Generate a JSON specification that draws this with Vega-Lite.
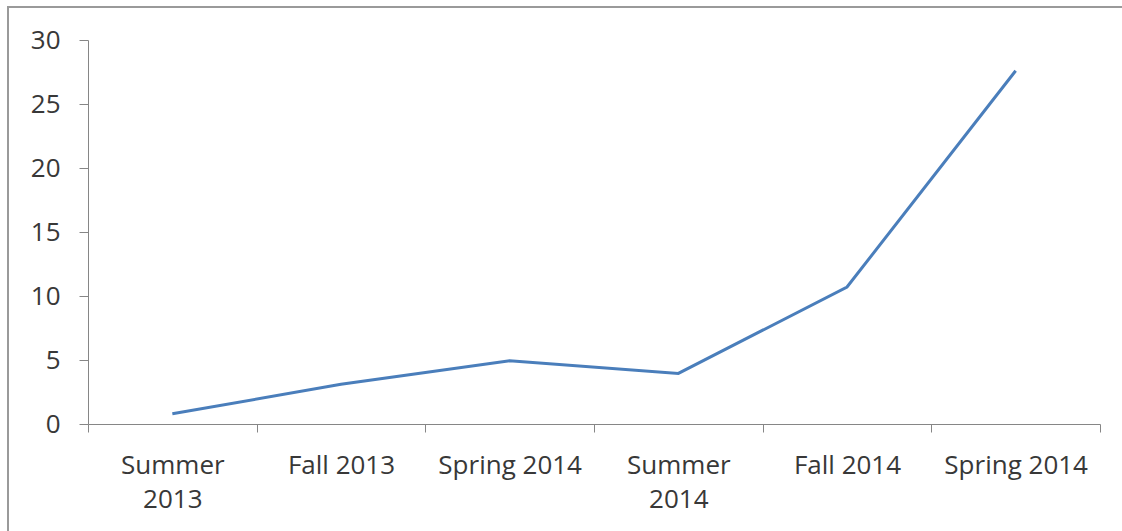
{
  "$schema": "https://vega.github.io/schema/vega-lite/v6.json",
  "autosize": {"type": "none"},
  "padding": {"left": 8, "top": 7, "right": -30, "bottom": -30},
  "width": 1144,
  "height": 554,
  "background": "white",
  "config": {
    "view": {"stroke": "#9a9a9a", "strokeWidth": 2, "fill": "white"},
    "font": "Open Sans"
  },
  "data": {
    "values": [
      {"term": "Summer 2013", "value": 0.8},
      {"term": "Fall 2013", "value": 3.1},
      {"term": "Spring 2014", "value": 4.95},
      {"term": "Summer 2014", "value": 3.95},
      {"term": "Fall 2014", "value": 10.7},
      {"term": "Spring 2014 (2)", "value": 27.6}
    ]
  },
  "mark": {"type": "line", "color": "#4a7ebb", "strokeWidth": 3},
  "encoding": {
    "x": {
      "field": "term",
      "type": "ordinal",
      "sort": null,
      "scale": {"type": "band", "range": [80, 1092], "paddingInner": 0, "paddingOuter": 0},
      "axis": {
        "title": null,
        "orient": "bottom",
        "offset": -137,
        "tickBand": "extent",
        "tickSize": 8,
        "tickColor": "#868686",
        "domainColor": "#868686",
        "labelAngle": 0,
        "labelFont": "Open Sans",
        "labelFontSize": 26,
        "labelColor": "#383838",
        "labelPadding": 20,
        "labelBaseline": "top",
        "labelLineHeight": 34,
        "labelExpr": "datum.value == 'Summer 2013' ? ['Summer', '2013'] : datum.value == 'Summer 2014' ? ['Summer', '2014'] : datum.value == 'Spring 2014 (2)' ? 'Spring 2014' : datum.value"
      }
    },
    "y": {
      "field": "value",
      "type": "quantitative",
      "scale": {"domain": [0, 30], "range": [417, 33], "nice": false, "zero": true},
      "axis": {
        "title": null,
        "offset": -80,
        "values": [0, 5, 10, 15, 20, 25, 30],
        "grid": false,
        "tickSize": 9,
        "tickColor": "#868686",
        "domainColor": "#868686",
        "labelFont": "Open Sans",
        "labelFontSize": 26,
        "labelColor": "#383838",
        "labelPadding": 19
      }
    }
  }
}
